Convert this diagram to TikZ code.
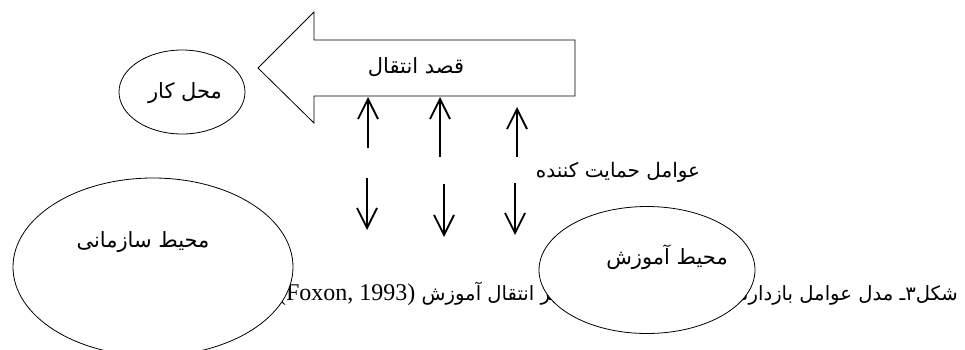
\documentclass[tikz,border=0pt]{standalone}
\usepackage{fontspec}
\setmainfont{Liberation Serif}
\newfontfamily\arabicfont[Script=Arabic]{DejaVu Sans}
\TeXXeTstate=1
\usetikzlibrary{arrows.meta,shapes.geometric}
\tikzset{
  ell/.style={draw, fill=white, ellipse, line width=0.8pt, inner sep=0pt},
  fa/.style={font=\fontsize{21}{25}\selectfont\arabicfont, inner sep=0pt},
  varr/.style={line width=1.8pt, -{Straight Barb[length=20pt,width=20pt,line width=1.8pt]}},
  blockarrow/.style={draw, line width=0.8pt, fill=white, line join=miter}
}
\begin{document}
\begin{tikzpicture}[x=1pt,y=-1pt]
\useasboundingbox (0,0) rectangle (965,349);
\fill[white] (0,0) rectangle (965,349);

% caption (partly covered by the ellipses)
\node[anchor=east, inner sep=0pt] (cap) at (958,294)
  {\fontsize{19.6}{24}\selectfont\arabicfont\beginR شکل۳ـ مدل عوامل بازدارنده و تسهیل‌کننده مؤثر بر انتقال آموزش \beginL{\fontsize{24}{28}\selectfont\rmfamily (Foxon, 1993)}\endL\endR};

% block arrow
\draw[blockarrow] (258,68) -- (314,12) -- (314,40) -- (575,40) -- (575,96) -- (314,96) -- (314,123) -- cycle;
\node[fa] (intent) at (416,67) {\beginR قصد انتقال\endR};

% ellipses
\node[ell, minimum width=126pt, minimum height=84pt] (work) at (182,92) {};
\node[fa] (worklbl) at (185,93) {\beginR محل کار\endR};
\node[ell, minimum width=280pt, minimum height=178pt] (org) at (153,267) {};
\node[fa] (orglbl) at (143,242) {\beginR محیط سازمانی\endR};
\node[ell, minimum width=216pt, minimum height=127pt] (train) at (647,270) {};
\node[fa] (trainlbl) at (667,257) {\beginR محیط آموزش\endR};

% support factors label
\node[fa, font=\fontsize{20}{24}\selectfont\arabicfont] (support) at (618,172) {\beginR عوامل حمایت کننده\endR};

% arrows
\coordinate (u1a) at (368,148); \coordinate (u1b) at (368,97);
\coordinate (u2a) at (440,157); \coordinate (u2b) at (440,97);
\coordinate (u3a) at (517,157); \coordinate (u3b) at (517,107);
\coordinate (d1a) at (367,178); \coordinate (d1b) at (367,230);
\coordinate (d2a) at (444,184); \coordinate (d2b) at (444,237);
\coordinate (d3a) at (515,183); \coordinate (d3b) at (515,235);
\draw[varr] (u1a) -- (u1b);
\draw[varr] (u2a) -- (u2b);
\draw[varr] (u3a) -- (u3b);
\draw[varr] (d1a) -- (d1b);
\draw[varr] (d2a) -- (d2b);
\draw[varr] (d3a) -- (d3b);
\end{tikzpicture}
\end{document}
